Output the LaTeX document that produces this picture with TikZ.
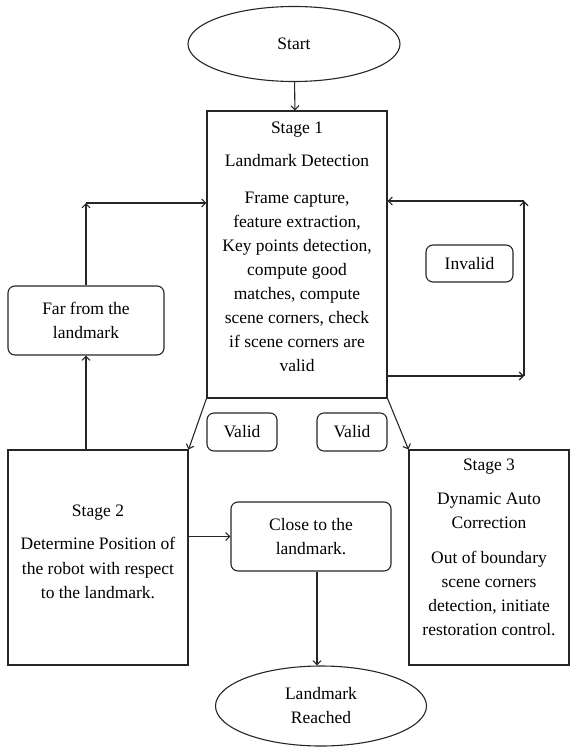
\documentclass[tikz,border=0pt]{standalone}
\usepackage{fontspec}
\setmainfont{Liberation Serif}
\usetikzlibrary{shapes.geometric, positioning, arrows.meta}

\tikzset{
  line/.style={draw=black!85, line width=1.1bp},
  stagebox/.style={line, rectangle, inner sep=0pt},
  roundbox/.style={line, rectangle, rounded corners=7bp, align=center, inner sep=0pt},
  term/.style={line, ellipse, align=center, inner sep=0pt},
  txt/.style={align=center, inner sep=0pt},
  flow/.style={line, -{Straight Barb[length=4bp, width=8bp]}}
}

\begin{document}
\begin{tikzpicture}[x=1bp, y=-1bp, font=\fontsize{17.5bp}{24bp}\selectfont]
\useasboundingbox (0,0) rectangle (571,747);

% terminals
\node (start) [term, minimum width=212bp, minimum height=75bp] at (294,44) {Start};
\node (reached) [term, minimum width=211bp, minimum height=80bp] at (321,706) {Landmark\\Reached};

% stage boxes
\node (s1) [stagebox, minimum width=180bp, minimum height=287bp] at (297,254.5) {};
\node (s2) [stagebox, minimum width=180bp, minimum height=215bp] at (98,557.5) {};
\node (s3) [stagebox, minimum width=160bp, minimum height=215bp] at (489,557.5) {};

\node (s1txt) [txt, below=11bp of s1.north] {Stage 1\\[9bp]
  Landmark Detection\\[13bp]
  Frame capture,\\ feature extraction,\\ Key points detection,\\ compute good\\
  matches, compute\\ scene corners, check\\ if scene corners are\\ valid};
\node (s2txt) [txt, below=55bp of s2.north] {Stage 2\\[9bp]
  Determine Position of\\[1bp] the robot with respect\\ to the landmark.};
\node (s3txt) [txt, below=9bp of s3.north] {Stage 3\\[10bp]
  Dynamic Auto\\ Correction\\[11bp]
  Out of boundary\\ scene corners\\ detection, initiate\\ restoration control.};

% condition boxes
\node (far) [roundbox, minimum width=156bp, minimum height=69bp] at (86,320.5) {Far from the\\landmark};
\node (close) [roundbox, minimum width=160bp, minimum height=69bp] at (311,536.5) {Close to the\\landmark.};
\node (invalid) [roundbox, minimum width=87bp, minimum height=37bp] at (469.5,263.5) {Invalid};
\node (validl) [roundbox, minimum width=70bp, minimum height=38bp] at (242,432) {Valid};
\node (validr) [roundbox, minimum width=70bp, minimum height=38bp] at (352,432) {Valid};

\coordinate (farbend) at (86,203);
\coordinate (invlow) at (524,376);
\coordinate (invhigh) at (524,201);

% connectors
\draw [flow] (start) -- (s1);
\draw [flow] (s1.south west) -- (s2.north east);
\draw [flow] (s1.south east) -- (s3.north west);
\draw [flow] (far.south |- s2.north) -- (far.south);
\draw [flow] (far.north) -- (farbend);
\draw [flow] (farbend) -- (farbend -| s1.west);
\draw [flow] (s1.east |- invlow) -- (invlow);
\draw [flow] (invlow) -- (invhigh);
\draw [flow] (invhigh) -- (invhigh -| s1.east);
\draw [flow] (s2.east |- close.west) -- (close.west);
\draw [flow] ([xshift=6bp]close.south) -- ([xshift=6bp]close.south |- reached.north);
\end{tikzpicture}
\end{document}
